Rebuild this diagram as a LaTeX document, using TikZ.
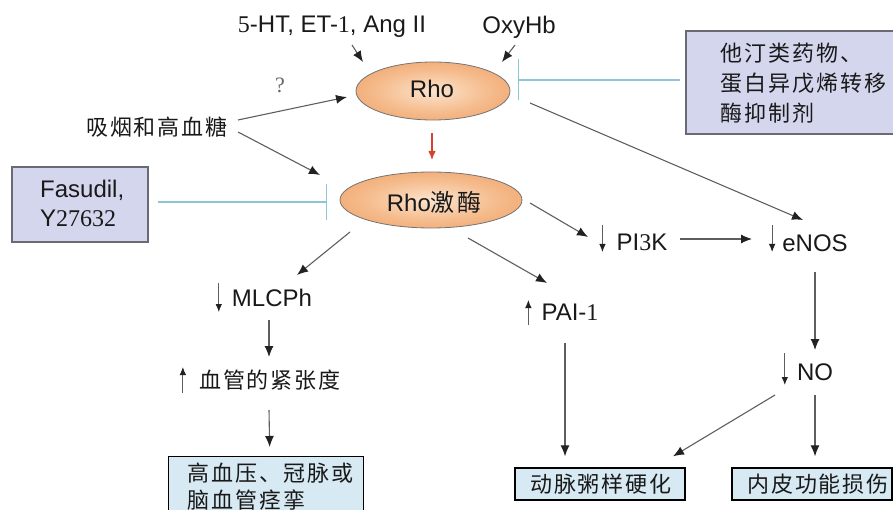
\documentclass[tikz,border=0pt]{standalone}
\usepackage{fontspec}
\setmainfont{Liberation Sans}
\newfontfamily\cjk[LetterSpace=9]{Noto Sans CJK SC}
\newfontfamily\tms{Liberation Serif}
\usetikzlibrary{arrows.meta,calc,shapes.geometric}

\definecolor{linegray}{HTML}{5E5E5E}
\definecolor{tipgray}{HTML}{222222}
\definecolor{inhib}{HTML}{8CC6D6}
\definecolor{lavfill}{HTML}{D4D6EE}
\definecolor{lavedge}{HTML}{6A6A74}
\definecolor{outfill}{HTML}{D7E9F3}
\definecolor{orpale}{HTML}{FCE4CE}
\definecolor{ormid}{HTML}{F5BC8D}
\definecolor{ordeep}{HTML}{EE965A}
\definecolor{oredge}{HTML}{E98A4C}
\definecolor{redarrow}{HTML}{D8412F}

\pgfdeclareradialshading{rhoshade}{\pgfpoint{0bp}{0bp}}{%
  color(0bp)=(orpale); color(18bp)=(ormid); color(40bp)=(ordeep); color(50bp)=(oredge)}

\tikzset{
  lbl/.style={font=\fontsize{24}{28}\selectfont, inner sep=0pt, text=black!90},
  clbl/.style={font=\cjk\fontsize{22}{30}\selectfont, inner sep=0pt, text=black!90},
  oval/.style={ellipse, draw=black!55, line width=0.8pt, shading=rhoshade, inner sep=0pt},
  lavbox/.style={rectangle, draw=lavedge, line width=1.6pt, fill=lavfill},
  outbox/.style={rectangle, draw=black, line width=1.3pt, fill=outfill},
  arr/.style={draw=linegray, line width=1.1pt, -{Latex[length=11pt,width=9pt,color=tipgray]}},
  updown/.style={draw=linegray, line width=0.9pt, -{Latex[length=8pt,width=6.5pt,color=tipgray]}},
  blockline/.style={draw=inhib, line width=1.4pt},
}

\begin{document}
\begin{tikzpicture}[x=1pt,y=-1pt]
\useasboundingbox (0,0) rectangle (893,510);
\clip (0,0) rectangle (893,510);

% activators of Rho
\node[lbl] (agon) at (332,27) {{\tms 5}-HT, ET-{\tms 1}, Ang II};
\node[lbl] (oxy) at (519,27) {OxyHb};

% the two enzymes
\node[oval, minimum width=154pt, minimum height=58pt] (rho) at (433,91) {};
\node[lbl] (rhotxt) at (432,89) {Rho};
\node[oval, minimum width=182pt, minimum height=56pt] (kin) at (431,200) {};
\node[lbl] (kintxt) at (434,202) {Rho{\cjk 激酶}};

% inhibitors
\node[lavbox, anchor=north west, minimum width=225pt, minimum height=103pt] (statin) at (685,30) {};
\node[clbl, anchor=west, align=left] (statintxt) at (720,83) {他汀类药物、\\蛋白异戊烯转移\\酶抑制剂};
\node[lavbox, minimum width=136pt, minimum height=75pt] (fas) at (80,204.5) {};
\node[lbl, anchor=west, align=left, font=\fontsize{24}{29}\selectfont] (fastxt) at (40,203) {Fasudil,\\Y{\tms 27632}};

% smoking / hyperglycaemia
\node[clbl] (smoke) at (157,127) {吸烟和高血糖};
\node[font=\tms\fontsize{22}{26}\selectfont, text=black!60, inner sep=0pt] (q) at (280,85) {?};

% downstream effectors
\node[lbl] (pi3k) at (642,242) {PI{\tms 3}K};
\node[lbl] (enos) at (815,243) {eNOS};
\node[lbl] (pai) at (570,312) {PAI-{\tms 1}};
\node[lbl] (mlc) at (272,298) {MLCPh};
\node[clbl] (tone) at (270,380) {血管的紧张度};
\node[lbl] (no) at (815,372) {NO};

% outcomes
\node[outbox, anchor=north west, minimum width=195pt, minimum height=90pt] (box1) at (168,456) {};
\node[clbl, anchor=west, align=left, font=\cjk\fontsize{22}{27}\selectfont] (box1txt) at (187,486.5) {高血压、冠脉或\\脑血管痉挛};
\node[outbox, minimum width=170pt, minimum height=32pt] (box2) at (600,484) {};
\node[clbl] (box2txt) at (601,484) {动脉粥样硬化};
\node[outbox, minimum width=160pt, minimum height=32pt] (box3) at (812,484) {};
\node[clbl] (box3txt) at (818,484) {内皮功能损伤};

% up / down markers beside the labels
\draw[updown] ($(pi3k.west)+(-14,-17)$) -- ($(pi3k.west)+(-14,10)$);
\draw[updown] ($(enos.west)+(-10,-18)$) -- ($(enos.west)+(-10,9)$);
\draw[updown] ($(pai.west)+(-13,13)$) -- ($(pai.west)+(-13,-12)$);
\draw[updown] ($(mlc.west)+(-13,-15)$) -- ($(mlc.west)+(-13,14)$);
\draw[updown] ($(tone.west)+(-16,13)$) -- ($(tone.west)+(-16,-13)$);
\draw[updown] ($(no.west)+(-12,-19)$) -- ($(no.west)+(-12,13)$);

% activation arrows
\draw[arr] ($(agon)+(20,18)$) -- ($(rho)+(-70,-29)$);
\draw[arr] ($(oxy)+(-4,18)$) -- ($(rho)+(69,-29)$);
\draw[arr] ($(smoke)+(81,-7)$) -- ($(rho)+(-86,6)$);
\draw[arr] ($(smoke)+(81,5)$) -- ($(kin)+(-111,-25)$);
\draw[draw=redarrow, line width=1.1pt, -{Latex[length=9pt,width=7.5pt,color=redarrow]}]
  ($(rho)+(-1,42)$) -- ($(kin)+(1,-40)$);
\draw[arr] ($(rho)+(97,12)$) -- ($(enos)+(-12,-23)$);
\draw[arr] ($(kin)+(99,3)$) -- ($(pi3k)+(-54,-5)$);
\draw[arr] ($(kin)+(37,38)$) -- ($(pai)+(-23,-29)$);
\draw[arr] ($(kin)+(-81,32)$) -- ($(mlc)+(25,-23)$);
\draw[arr] ($(pi3k)+(38,-3)$) -- ($(enos)+(-63,-4)$);
\draw[arr] ($(mlc)+(-3,22)$) -- ($(tone)+(-1,-23)$);
\draw[arr] ($(tone)+(-1,30)$) -- ($(box1.north)+(3.5,-9)$);
\draw[arr] ($(pai)+(-5,31)$) -- ($(box2.north)+(-35,-11)$);
\draw[arr] ($(enos)+(0,29)$) -- ($(no)+(0,-22)$);
\draw[arr] ($(no)+(-40,23)$) -- ($(box2.north)+(73,-11)$);
\draw[arr] ($(no)+(0,23)$) -- ($(box3.north)+(3,-11)$);

% inhibition (kept level with the target)
\coordinate (rhostop) at ($(rho)+(85,-11)$);
\coordinate (kinstop) at ($(kin)+(-104,2)$);
\draw[blockline, -{Bar[width=41pt,line width=1.4pt]}] ($(statin.west |- rhostop)+(-5,0)$) -- (rhostop);
\draw[blockline, -{Bar[width=36pt,line width=1.4pt]}] ($(fas.east |- kinstop)+(9,0)$) -- (kinstop);
\end{tikzpicture}
\end{document}
